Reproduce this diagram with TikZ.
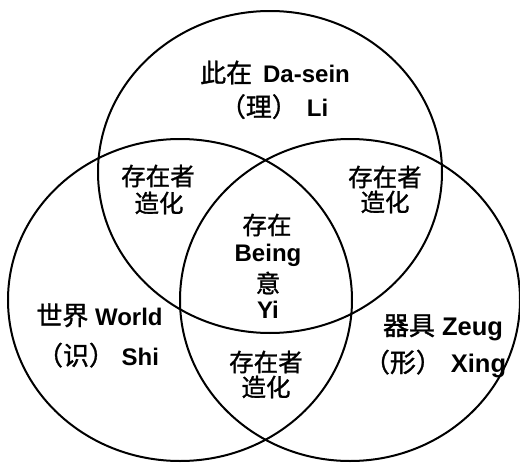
\documentclass[tikz,border=0pt]{standalone}
\usepackage{fontspec}
\setmainfont{Liberation Sans}
\newfontfamily\cjk{Noto Sans CJK SC}[FakeBold=1.2]
\newcommand{\zh}[1]{{\mdseries\cjk\fontsize{26}{28}\selectfont #1}}
\begin{document}
\begin{tikzpicture}[x=1pt,y=-1pt,
  ring/.style={line width=2pt},
  lbl/.style={font=\bfseries\fontsize{24}{28}\selectfont, inner sep=0pt, anchor=base},
  big/.style={font=\bfseries\fontsize{25.5}{28}\selectfont},
  cj/.style={font=\cjk\fontsize{24.5}{28}\selectfont, inner sep=0pt}]
\fill[white] (0,0) rectangle (520,463);
\useasboundingbox (0,0) rectangle (520,463);
\draw[ring] (270,172) ellipse [x radius=172pt, y radius=161pt];
\draw[ring] (180,300) ellipse [x radius=172pt, y radius=161pt];
\draw[ring] (350,300) ellipse [x radius=170pt, y radius=161pt];
\node[lbl] (dasein) at (275,82.5) {\zh{此在}\hspace{11pt}Da-sein};
\node[lbl] (li) at (274,116.5) {\zh{（理）}\hspace{9pt}Li};
\node[cj] (lensL1) at (158,176) {存在者};
\node[cj] (lensL2) at (159,203) {造化};
\node[cj] (lensR1) at (385,177) {存在者};
\node[cj] (lensR2) at (385,202) {造化};
\node[cj] (c1) at (267,225) {存在};
\node[lbl] (being) at (268,261.5) {Being};
\node[cj] (c2) at (268,283) {意};
\node[lbl] (yi) at (268,318) {Yi};
\node[cj] (lensB1) at (266,362) {存在者};
\node[cj] (lensB2) at (266,387) {造化};
\node[lbl] (world) at (99.5,325) {\zh{世界} World};
\node[lbl] (shi) at (98,365) {\zh{（识）} Shi};
\node[lbl,big] (zeug) at (443,335) {\zh{器具} Zeug};
\node[lbl,big] (xing) at (435,372) {\zh{（形）}\hspace{9pt}Xing};
\end{tikzpicture}
\end{document}
